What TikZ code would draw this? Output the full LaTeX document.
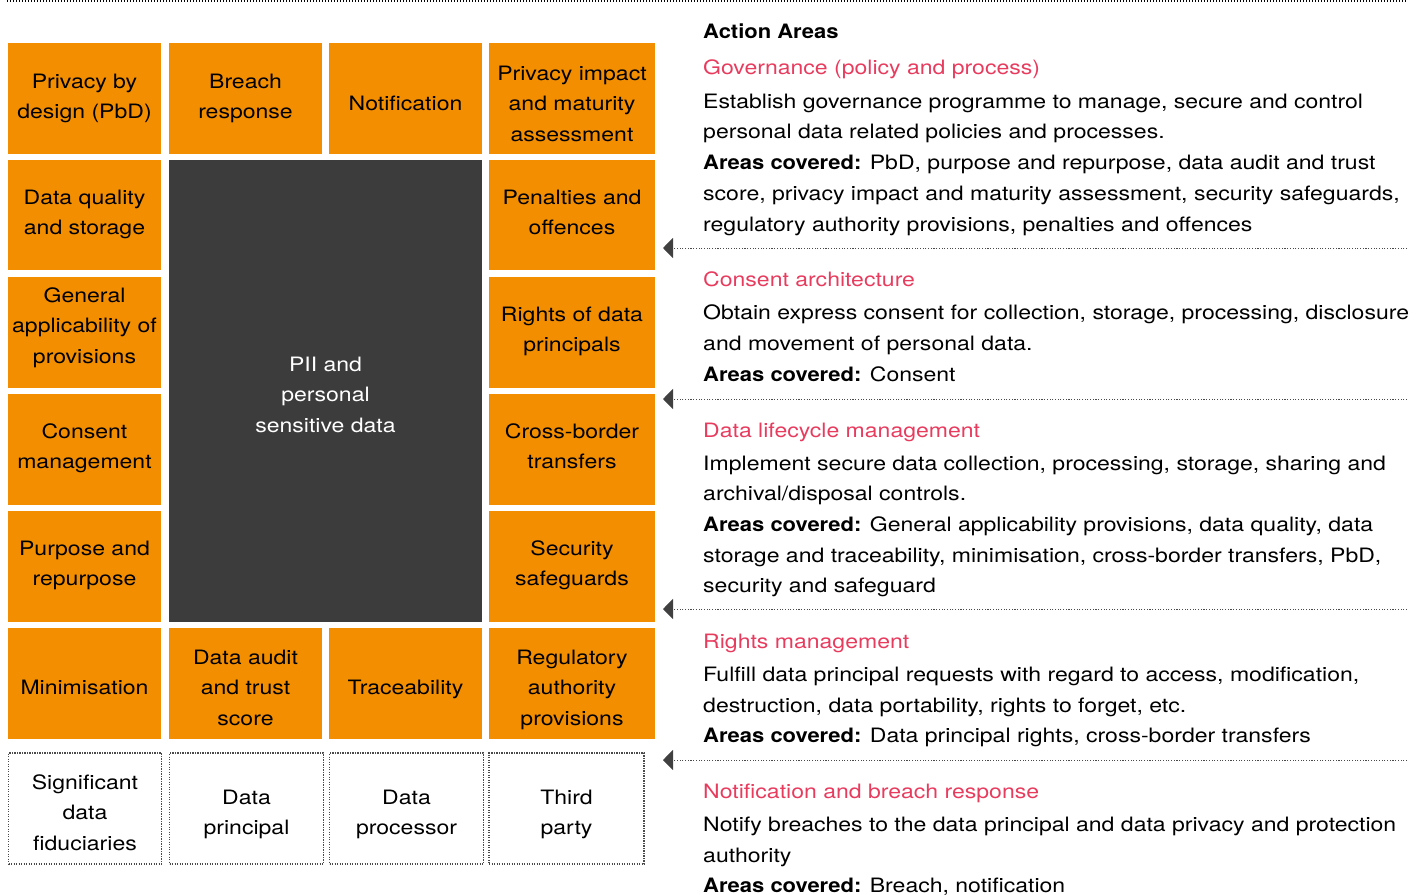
\documentclass[tikz,border=0pt]{standalone}
\usepackage{fontspec}
\setmainfont{TeX Gyre Heros}[FakeStretch=1.163, BoldFeatures={FakeStretch=1.11}]
\usetikzlibrary{arrows.meta}

\definecolor{boxorange}{HTML}{F28E00}
\definecolor{coredark}{HTML}{3C3C3C}
\definecolor{headpink}{HTML}{E83C5F}
\definecolor{tipgrey}{HTML}{404040}
\definecolor{dotgrey}{HTML}{4A4A4A}
\newcommand\bodyfont{\fontsize{19.8pt}{30.5pt}\selectfont}

\tikzset{
  every node/.style={inner sep=0pt, font=\bodyfont},
  cell/.style={fill=boxorange, minimum height=111pt},
  narrow/.style={minimum width=153pt},
  wide/.style={minimum width=166pt},
  core/.style={fill=coredark, minimum width=313pt, minimum height=462pt},
  actor/.style={draw=dotgrey, line width=1.1pt, dash pattern=on 1.1pt off 1.4pt,
    minimum height=111pt},
  % caption placed at its first baseline: the node top is one strut height above it
  celltext/.style={align=center, anchor=north, yshift=21.35pt},
  txt/.style={anchor=base west},
  head/.style={anchor=base west, text=headpink},
  pointer/.style={draw=dotgrey, line width=1pt, dash pattern=on 1.1pt off 1.6pt,
    -{Triangle[length=10pt,width=20pt,fill=tipgrey,color=tipgrey]}},
  rule/.style={draw=black, line width=1.2pt, dash pattern=on 1.2pt off 1.8pt}
}

\begin{document}
\begin{tikzpicture}[x=1pt,y=-1pt]
\useasboundingbox (0,0) rectangle (1426,894);

% rule across the top
\coordinate (ruleL) at (7,1);
\coordinate (ruleR) at (1407,1);
\draw[rule] (ruleL) -- (ruleR);

% outer ring of topic cells
\node[cell,narrow] (pbd)    at (84.5,98.5)  {};
\node[cell,narrow] (breach) at (245.5,98.5) {};
\node[cell,narrow] (notif)  at (405.5,98.5) {};
\node[cell,wide]   (pia)    at (572,98.5)   {};
\node[cell,narrow,minimum height=110pt] (dq)  at (84.5,215) {};
\node[cell,wide,minimum height=110pt]   (pen) at (572,215)  {};
\node[cell,narrow] (gen)  at (84.5,332.5) {};
\node[cell,wide]   (rdp)  at (572,332.5)  {};
\node[cell,narrow] (cm)   at (84.5,449.5) {};
\node[cell,wide]   (cbt)  at (572,449.5)  {};
\node[cell,narrow] (pur)  at (84.5,566.5) {};
\node[cell,wide]   (sec)  at (572,566.5)  {};
\node[cell,narrow] (mini)  at (84.5,683.5)  {};
\node[cell,narrow] (audit) at (245.5,683.5) {};
\node[cell,narrow] (trace) at (405.5,683.5) {};
\node[cell,wide]   (reg)   at (572,683.5)   {};

% central block
\node[core] (pii) at (325.5,391) {};

% parties
\node[actor,minimum width=153pt] (sdf) at (85,808.5)    {};
\node[actor,minimum width=154pt] (dp)  at (246.5,808.5) {};
\node[actor,minimum width=154pt] (dpr) at (406.5,808.5) {};
\node[actor,minimum width=155pt] (tp)  at (566.5,808.5) {};

% captions, positioned by the baseline of their first line
\node[celltext] (pbdT)    at (84.5,88)   {\strut Privacy by\\design (PbD)};
\node[celltext] (breachT) at (245.5,88)  {\strut Breach\\response};
\node[celltext] (notifT)  at (405.5,110) {\strut Notification};
\node[celltext] (piaT)    at (572,80)    {\strut Privacy impact\\and maturity\\assessment};
\node[celltext] (dqT)     at (84.5,204)  {\strut Data quality\\and storage};
\node[celltext] (penT)    at (572,204)   {\strut Penalties and\\offences};
\node[celltext] (genT)    at (84.5,302)  {\strut General\\applicability of\\provisions};
\node[celltext] (rdpT)    at (572,321)   {\strut Rights of data\\principals};
\node[celltext] (cmT)     at (84.5,438)  {\strut Consent\\management};
\node[celltext] (cbtT)    at (572,438)   {\strut Cross-border\\transfers};
\node[celltext] (purT)    at (84.5,555)  {\strut Purpose and\\repurpose};
\node[celltext] (secT)    at (572,555)   {\strut Security\\safeguards};
\node[celltext] (miniT)   at (84.5,694)  {\strut Minimisation};
\node[celltext] (auditT)  at (245.5,664) {\strut Data audit\\and trust\\score};
\node[celltext] (traceT)  at (405.5,694) {\strut Traceability};
\node[celltext] (regT)    at (572,664)   {\strut Regulatory\\authority\\provisions};
\node[celltext,text=white] (piiT) at (325.5,371) {\strut PII and\\personal\\sensitive data};
\node[celltext] (sdfT)    at (85,789)    {\strut Significant\\data\\fiduciaries};
\node[celltext] (dpT)     at (246.5,804) {\strut Data\\principal};
\node[celltext] (dprT)    at (406.5,804) {\strut Data\\processor};
\node[celltext] (tpT)     at (566.5,804) {\strut Third\\party};

% action areas
\node[txt] (aa) at (703,38) {\textbf{Action Areas}};

\node[head] (h1) at (703,74) {Governance (policy and process)};
\node[txt] (g1) at (703,108) {Establish governance programme to manage, secure and control};
\node[txt] (g2) at (703,138) {personal data related policies and processes.};
\node[txt] (g3) at (703,169) {\textbf{Areas covered:} PbD, purpose and repurpose, data audit and trust};
\node[txt] (g4) at (703,200) {score, privacy impact and maturity assessment, security safeguards,};
\node[txt] (g5) at (703,231) {regulatory authority provisions, penalties and offences};

\node[head] (h2) at (703,286) {Consent architecture};
\node[txt] (c1) at (703,319) {Obtain express consent for collection, storage, processing, disclosure};
\node[txt] (c2) at (703,350) {and movement of personal data.};
\node[txt] (c3) at (703,381) {\textbf{Areas covered:} Consent};

\node[head] (h3) at (703,437) {Data lifecycle management};
\node[txt] (d1) at (703,470) {Implement secure data collection, processing, storage, sharing and};
\node[txt] (d2) at (703,500) {archival/disposal controls.};
\node[txt] (d3) at (703,531) {\textbf{Areas covered:} General applicability provisions, data quality, data};
\node[txt] (d4) at (703,562) {storage and traceability, minimisation, cross-border transfers, PbD,};
\node[txt] (d5) at (703,592) {security and safeguard};

\node[head] (h4) at (703,648) {Rights management};
\node[txt] (r1) at (703,681) {Fulfill data principal requests with regard to access, modification,};
\node[txt] (r2) at (703,712) {destruction, data portability, rights to forget, etc.};
\node[txt] (r3) at (703,742) {\textbf{Areas covered:} Data principal rights, cross-border transfers};

\node[head] (h5) at (703,798) {Notification and breach response};
\node[txt] (n1) at (703,831) {Notify breaches to the data principal and data privacy and protection};
\node[txt] (n2) at (703,862) {authority};
\node[txt] (n3) at (703,892) {\textbf{Areas covered:} Breach, notification};

% pointers back to the grid
\foreach \k/\yy in {1/248, 2/399, 3/609, 4/760}{
  \coordinate (pS\k) at (1407,\yy);
  \coordinate (pE\k) at (663,\yy);
  \draw[pointer] (pS\k) -- (pE\k);
}
\end{tikzpicture}
\end{document}
